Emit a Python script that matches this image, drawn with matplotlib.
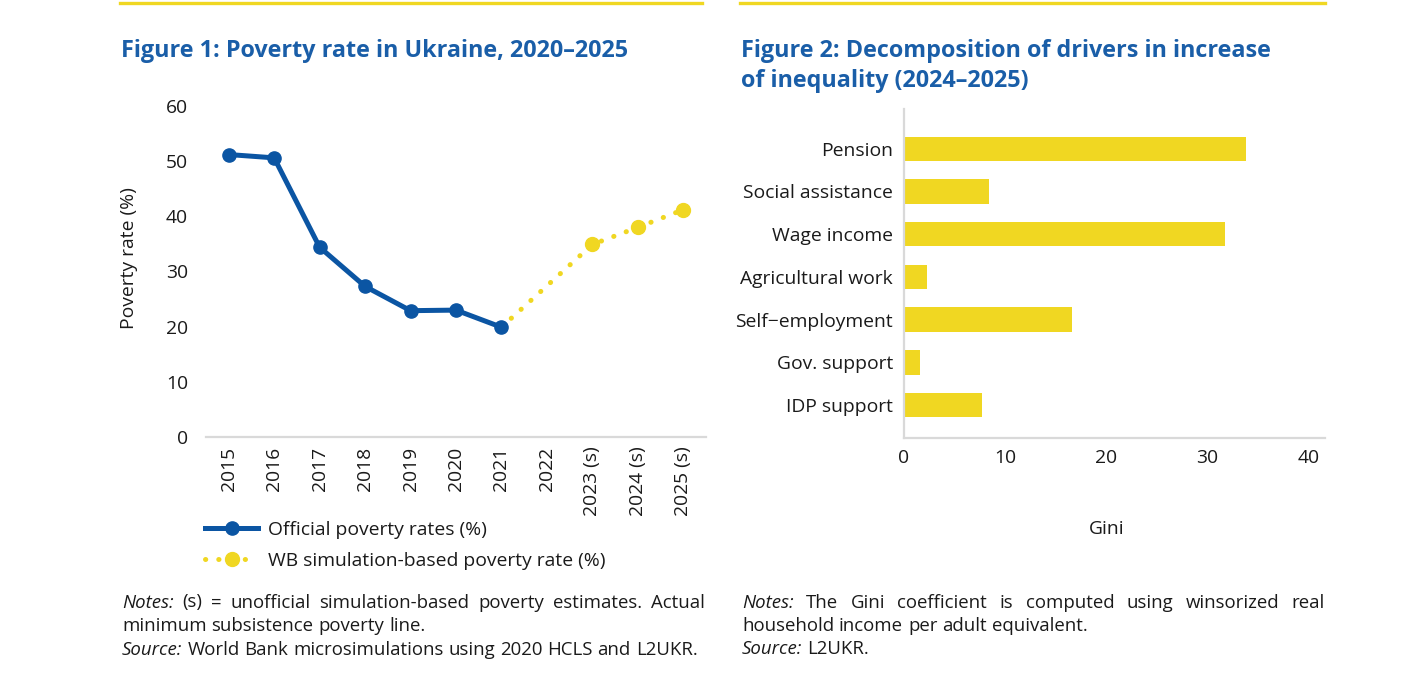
import matplotlib
matplotlib.use("Agg")
import matplotlib.pyplot as plt
from matplotlib.lines import Line2D

plt.rcParams['font.family'] = ['Open Sans', 'DejaVu Sans']

# ---------------- data ----------------
years = ["2015", "2016", "2017", "2018", "2019", "2020", "2021", "2022",
         "2023 (s)", "2024 (s)", "2025 (s)"]
official_years = ["2015", "2016", "2017", "2018", "2019", "2020", "2021"]
official_vals = [51.2, 50.6, 34.4, 27.3, 22.9, 23.0, 19.9]
sim_years = ["2021", "2023 (s)", "2024 (s)", "2025 (s)"]
sim_vals = [19.9, 34.9, 38.0, 41.2]

drivers = ["Pension", "Social assistance", "Wage income", "Agricultural work",
           "Self\u2212employment", "Gov. support", "IDP support"]
gini_vals = [33.8, 8.4, 31.7, 2.3, 16.6, 1.6, 7.7]
gini_ticks = [0, 10, 20, 30, 40]
pov_ticks = [0, 10, 20, 30, 40, 50, 60]

BLUE = "#0B55A3"
YELLOW = "#F0D722"
TITLE_BLUE = "#1A5EA8"
GRID = "#D9D9D9"
TXT = "#1A1A1A"

W, H = 1417, 693
fig = plt.figure(figsize=(W / 100, H / 100), dpi=100)

FS = 13.9
TFS = 16.8
NFS = 13.4


def fx(px):
    return px / W


def fy(py):
    return 1 - py / H


# top yellow rules
fig.add_artist(Line2D([fx(120), fx(702)], [fy(2.5), fy(2.5)], color=YELLOW, lw=2.4))
fig.add_artist(Line2D([fx(740), fx(1325)], [fy(2.5), fy(2.5)], color=YELLOW, lw=2.4))

# titles
fig.text(fx(121), fy(57), "Figure 1: Poverty rate in Ukraine, 2020\u20132025",
         fontsize=TFS, fontweight='bold', color=TITLE_BLUE, va='baseline')
fig.text(fx(741), fy(57), "Figure 2: Decomposition of drivers in increase",
         fontsize=TFS, fontweight='bold', color=TITLE_BLUE, va='baseline')
fig.text(fx(741), fy(87), "of inequality (2024\u20132025)",
         fontsize=TFS, fontweight='bold', color=TITLE_BLUE, va='baseline')

# ---------------- Figure 1 ----------------
ax1 = fig.add_axes([fx(206), fy(437), fx(706) - fx(206), fy(106) - fy(437)])
pos = {y: i for i, y in enumerate(years)}
xo = [pos[y] for y in official_years]
xs = [pos[y] for y in sim_years]

ax1.plot(xs, sim_vals, color=YELLOW, lw=3.6, linestyle=(0, (0.05, 2.6)),
         dash_capstyle='round', solid_capstyle='round', zorder=2)
ax1.plot(xs[1:], sim_vals[1:], 'o', color=YELLOW, ms=10, zorder=3)
ax1.plot(xo, official_vals, color=BLUE, lw=3.6, marker='o', ms=9.5,
         solid_joinstyle='round', zorder=4)

ax1.set_xlim(-0.5, len(years) - 0.5)
ax1.set_ylim(0, 60)
ax1.set_xticks(range(len(years)))
ax1.set_xticklabels(years, rotation=90, fontsize=FS, color=TXT)
ax1.set_yticks(pov_ticks)
ax1.set_yticklabels([str(t) for t in pov_ticks], fontsize=FS, color=TXT)
ax1.tick_params(axis='both', length=0)
ax1.tick_params(axis='y', pad=13)
ax1.tick_params(axis='x', pad=7)
for s in ['top', 'right', 'left']:
    ax1.spines[s].set_visible(False)
ax1.spines['bottom'].set_color(GRID)
ax1.spines['bottom'].set_linewidth(1.6)
ax1.set_ylabel("Poverty rate (%)", fontsize=FS, color=TXT)
ax1.yaxis.set_label_coords((129 - 206) / 500, (437 - 258) / 331)
ax1.yaxis.label.set_va('center')

h_off = Line2D([], [], color=BLUE, lw=3.6, marker='o', ms=9.5)
h_sim = Line2D([], [], color=YELLOW, lw=3.6, linestyle=(0, (0.05, 2.6)),
               dash_capstyle='round', marker='o', ms=10)
fig.legend([h_off, h_sim], ["Official poverty rates (%)",
                            "WB simulation-based poverty rate (%)"],
           loc='upper left', bbox_to_anchor=(fx(205), fy(521)),
           bbox_transform=fig.transFigure, frameon=False, fontsize=FS,
           handlelength=2.75, handletextpad=0.5, labelspacing=0.66,
           borderpad=0, borderaxespad=0, labelcolor=TXT)

# ---------------- Figure 2 ----------------
ax2 = fig.add_axes([fx(904), fy(438), fx(1325) - fx(904), fy(109) - fy(438)])
ypos = list(range(len(drivers) - 1, -1, -1))
ax2.barh(ypos, gini_vals, height=0.57, color=YELLOW, zorder=2)
ax2.set_xlim(0, 41.6)
ax2.set_ylim(-0.77, len(drivers) - 1 + 0.93)
ax2.set_yticks(ypos)
ax2.set_yticklabels(drivers, fontsize=FS, color=TXT)
ax2.set_xticks(gini_ticks)
ax2.set_xticklabels([str(t) for t in gini_ticks], fontsize=FS, color=TXT)
ax2.tick_params(axis='both', length=0)
ax2.tick_params(axis='y', pad=8)
ax2.tick_params(axis='x', pad=8)
for s in ['top', 'right']:
    ax2.spines[s].set_visible(False)
for s in ['left', 'bottom']:
    ax2.spines[s].set_color(GRID)
    ax2.spines[s].set_linewidth(1.6)
ax2.set_xlabel("Gini", fontsize=FS, color=TXT)
ax2.xaxis.set_label_coords((1107 - 904) / 421, (438 - 529) / 329)
ax2.xaxis.label.set_va('center')

# ---------------- notes (justified where needed) ----------------
renderer = fig.canvas.get_renderer()


def draw_line(parts, x0, x1, y, justify):
    """parts: list of (word, italic)"""
    texts = []
    for w, it in parts:
        t = fig.text(fx(x0), fy(y), w, fontsize=NFS, color=TXT,
                     style='italic' if it else 'normal', va='baseline')
        texts.append(t)
    widths = [t.get_window_extent(renderer).width for t in texts]
    if justify and len(texts) > 1:
        gap = (x1 - x0 - sum(widths)) / (len(texts) - 1)
    else:
        a = fig.text(0, 0, "x x", fontsize=NFS)
        b = fig.text(0, 0, "xx", fontsize=NFS)
        gap = a.get_window_extent(renderer).width - b.get_window_extent(renderer).width
        a.remove()
        b.remove()
    x = x0
    for t, w in zip(texts, widths):
        t.set_x(fx(x))
        x += w + gap


def words(s, italic=False):
    return [(w, italic) for w in s.split()]


draw_line([("Notes:", True)] + words("(s) = unofficial simulation-based poverty estimates. Actual"),
          122, 705, 607.5, True)
draw_line(words("minimum subsistence poverty line."), 122, 705, 631, False)
draw_line([("Source:", True)] + words("World Bank microsimulations using 2020 HCLS and L2UKR."),
          122, 705, 655, False)

draw_line([("Notes:", True)] + words("The Gini coefficient is computed using winsorized real"),
          742, 1325, 607.5, True)
draw_line(words("household income per adult equivalent."), 742, 1325, 631, False)
draw_line([("Source:", True)] + words("L2UKR."), 742, 1325, 654.5, False)

fig.savefig("out.png", dpi=100)
